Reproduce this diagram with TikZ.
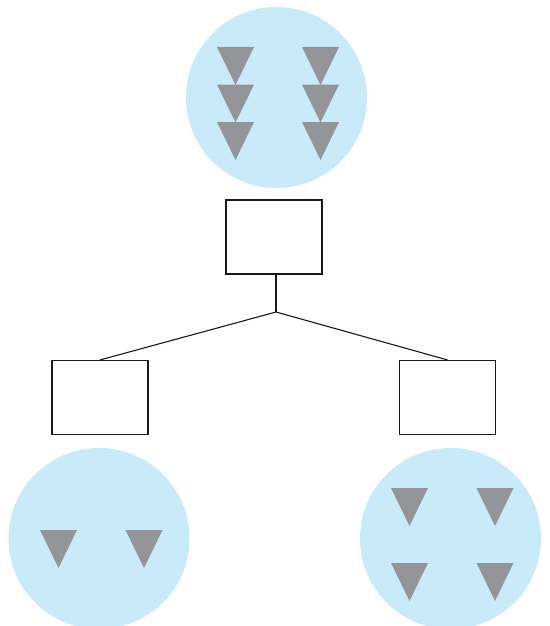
\documentclass[tikz,border=0pt]{standalone}
\begin{document}
\begin{tikzpicture}[x=1pt,y=-1pt,
  blob/.style={circle,fill=cellblue,draw=none,minimum size=181pt,inner sep=0pt},
  stepbox/.style={rectangle,draw=black!90,line width=1.1pt,fill=white,minimum width=96pt,minimum height=74pt,inner sep=0pt},
  link/.style={draw=black!90,line width=1.1pt},
  tri/.pic={\fill[trigray] (-18.5,0) -- (18.5,0) -- (0,38) -- cycle;}]
\definecolor{cellblue}{HTML}{C8EAF9}
\definecolor{trigray}{HTML}{939598}
\useasboundingbox (0,0) rectangle (549,626);
% circles
\node[blob] (ctop) at (276.5,97.5) {};
\node[blob] (cleft) at (99,538.5) {};
\node[blob] (cright) at (450.5,538.5) {};
% triangles top
\foreach \y in {47,84.5,122}{
  \pic at (235.5,\y) {tri};
  \pic at (320.5,\y) {tri};
}
% triangles left
\pic at (58.5,530) {tri};
\pic at (144,530) {tri};
% triangles right
\pic at (409.5,488) {tri};
\pic at (495,488) {tri};
\pic at (409.5,563) {tri};
\pic at (495,563) {tri};
% boxes
\node[stepbox] (btop) at (274,237) {};
\node[stepbox] (bleft) at (100,397.5) {};
\node[stepbox] (bright) at (447.5,397.5) {};
\coordinate (j) at (276,312);
\draw[link] (btop.south -| j) -- (j);
\draw[link] (j) -- (bleft.north);
\draw[link] (j) -- (bright.north);
\end{tikzpicture}
\end{document}
